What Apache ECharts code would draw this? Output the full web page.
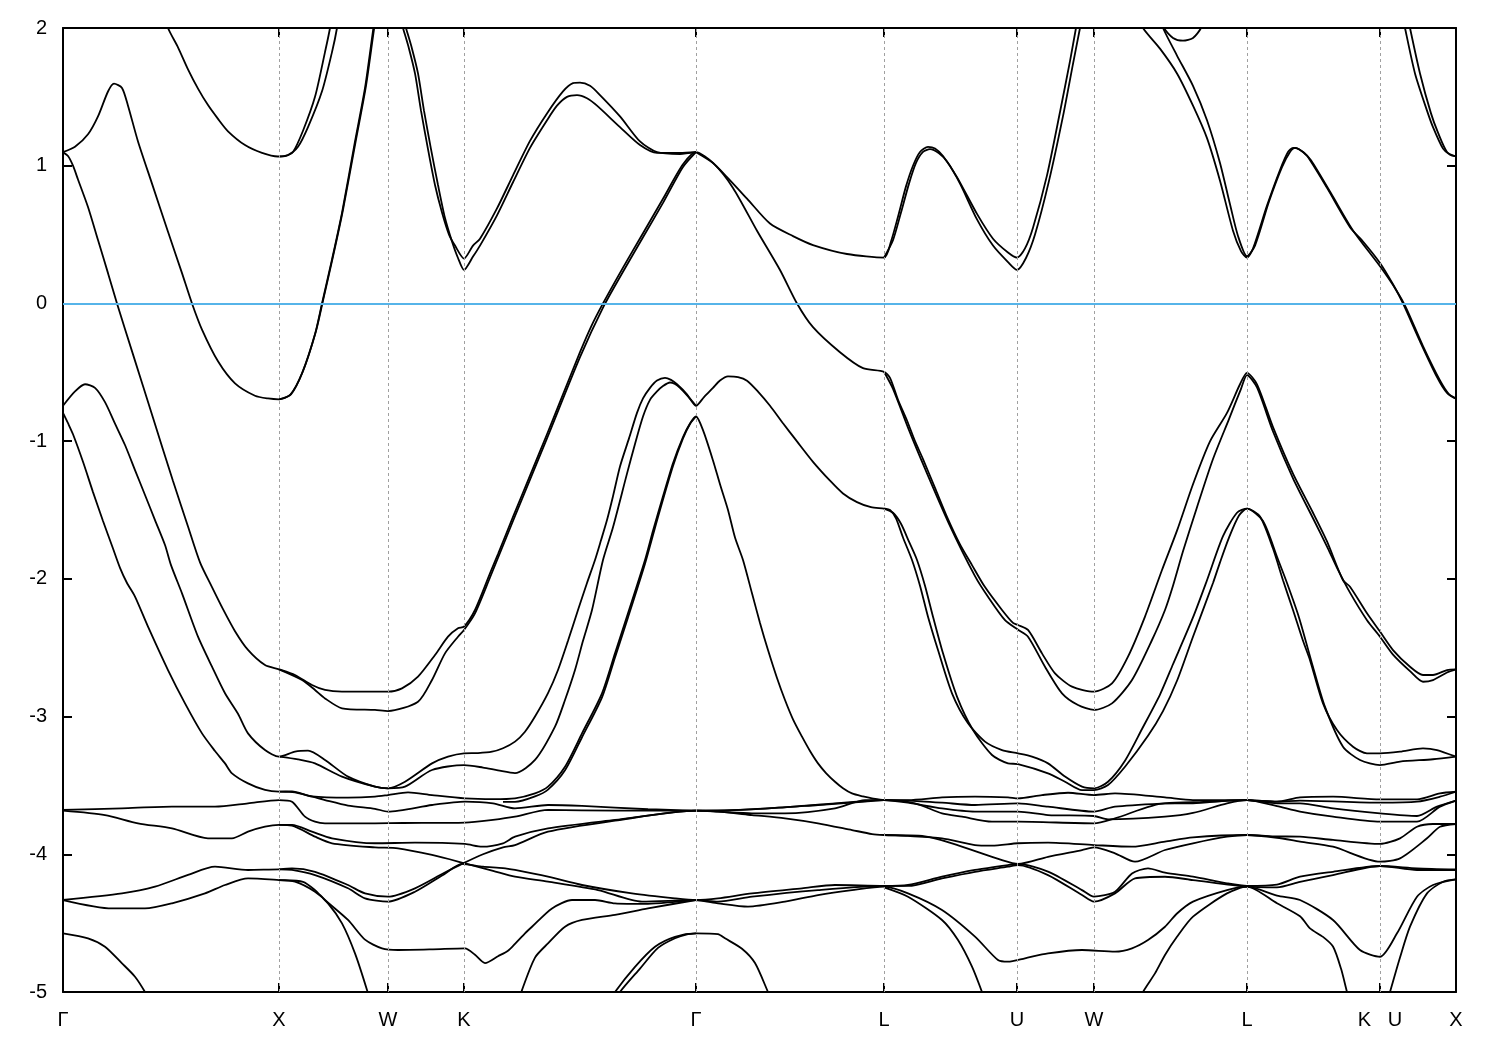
<!DOCTYPE html>
<html>
<head>
<meta charset="utf-8">
<script src="https://cdn.jsdelivr.net/npm/echarts@6/dist/echarts.min.js"></script>
<style>
html,body{margin:0;padding:0;background:#fff;}
#chart{width:1500px;height:1050px;}
</style>
</head>
<body>
<div id="chart"></div>
<script>
// High-symmetry points along the k-path (k-path distance units)
const kTicks = [0, 216, 325, 401, 633, 821, 954, 1031, 1184, 1317, 1393];
const kLabels = ['Γ', 'X', 'W', 'K', 'Γ', 'L', 'U', 'W', 'L', 'K   U', 'X'];
const energyMin = -5, energyMax = 2, energyStep = 1;
const fermiLevel = 0;

// ---- bands: [k, E(eV)] ----
const bandU1a = [[103,2.08],[105,2.0],[115,1.86],[125,1.70],[135,1.56],[145,1.44],[155,1.34],[165,1.25],[182,1.15],[199,1.093],[215,1.067],[225,1.078],[235,1.137],[245,1.28],[259,1.54],[269,1.825],[274,2.0],[275,2.08]];
const bandU1b = [[216,1.067],[222,1.07],[230,1.10],[240,1.254],[252,1.50],[262,1.825],[267,2.0],[268,2.08]];
const bandA = [[0,1.098],[12,1.137],[25,1.228],[35,1.358],[45,1.539],[51,1.596],[59,1.565],[65,1.436],[75,1.176],[89,0.87],[105,0.52],[119,0.22],[129,0],[139,-0.19],[155,-0.42],[172,-0.58],[192,-0.67],[205,-0.69],[216,-0.696],[227,-0.665],[239,-0.509],[252,-0.224],[259,0],[269,0.32],[279,0.658],[292,1.176],[302,1.565],[310,1.98],[312,2.08]];
const bandA2 = [[216,-0.696],[228,-0.66],[240,-0.49],[253,-0.20],[260,0.02],[270,0.34],[280,0.68],[293,1.19],[303,1.58],[311,1.99],[313,2.08]];
const bandKa = [[337,2.08],[340,2.0],[346,1.85],[352,1.67],[358,1.40],[365,1.12],[372,0.86],[379,0.66],[386,0.50],[392,0.42],[401,0.326],[410,0.42],[417,0.47],[434,0.69],[450,0.93],[467,1.18],[484,1.38],[500,1.54],[510,1.60],[517,1.604],[527,1.58],[537,1.513],[557,1.358],[577,1.176],[594,1.098],[617,1.085],[633,1.098]];
const bandKb = [[340,2.08],[343,2.0],[349,1.85],[355,1.67],[361,1.40],[368,1.12],[375,0.86],[382,0.62],[389,0.45],[395,0.33],[401,0.243],[410,0.34],[417,0.42],[434,0.64],[450,0.88],[467,1.13],[484,1.33],[494,1.436],[504,1.50],[514,1.513],[524,1.49],[534,1.436],[557,1.28],[577,1.15],[594,1.093],[617,1.093],[633,1.098]];
const bandB = [[0,1.098],[5,1.07],[10,1.0],[15,0.9],[25,0.7],[35,0.46],[45,0.22],[54,0],[70,-0.37],[90,-0.83],[110,-1.29],[125,-1.62],[137,-1.88],[149,-2.06],[160,-2.22],[172,-2.38],[185,-2.516],[202,-2.626],[216,-2.657],
  [232,-2.698],[249,-2.771],[262,-2.807],[279,-2.819],[312,-2.819],[325,-2.819],[339,-2.795],[355,-2.71],[372,-2.553],[385,-2.42],[395,-2.359],[401,-2.347],
  [412,-2.226],[427,-1.96],[435,-1.82],[450,-1.55],[467,-1.25],[484,-0.95],[500,-0.66],[517,-0.354],[528,-0.17],[540,0],[560,0.26],[580,0.51],[600,0.76],[620,1.01],[633,1.098],
  [650,1.02],[670,0.839],[694,0.528],[717,0.243],[734,0],[750,-0.172],[777,-0.354],[800,-0.47],[821,-0.496],
  [827,-0.54],[835,-0.70],[844,-0.85],[852,-1.0],[860,-1.13],[872,-1.34],[884,-1.55],[897,-1.75],[909,-1.9],[922,-2.06],[939,-2.226],[950,-2.32],[955,-2.335],
  [965,-2.371],[979,-2.541],[992,-2.686],[1009,-2.783],[1031,-2.819],[1049,-2.759],[1065,-2.565],[1082,-2.274],[1099,-1.936],
  [1114,-1.65],[1130,-1.313],[1147,-1.002],[1164,-0.795],[1177,-0.587],[1184,-0.504],
  [1194,-0.587],[1210,-0.898],[1230,-1.236],[1250,-1.52],[1264,-1.728],[1280,-2.01],[1287,-2.057],[1304,-2.25],[1317,-2.383],[1330,-2.517],[1347,-2.638],[1360,-2.698],[1370,-2.698],[1384,-2.662],[1393,-2.657]];
const bandC = [[216,-2.657],[239,-2.734],[252,-2.807],[262,-2.868],[279,-2.94],[312,-2.952],[325,-2.96],[355,-2.892],[369,-2.734],[382,-2.541],[395,-2.42],[401,-2.371],
  [412,-2.25],[427,-1.99],[450,-1.58],[484,-0.98],[517,-0.39],[540,-0.03],[560,0.23],[580,0.48],[600,0.73],[620,0.99],[633,1.098]];
const bandGL = [[633,1.098],[650,1.02],[664,0.917],[684,0.761],[707,0.58],[730,0.489],[750,0.424],[784,0.359],[821,0.333],
  [828,0.45],[835,0.63],[843,0.85],[850,1.0],[857,1.10],[865,1.137],[872,1.125],[880,1.07],[894,0.917],[914,0.65],[930,0.47],[945,0.37],[954,0.333],
  [962,0.40],[970,0.55],[984,0.93],[997,1.39],[1007,1.76],[1013,2.0],[1015,2.08]];
const bandLU2 = [[821,0.333],[830,0.46],[838,0.66],[846,0.87],[853,1.02],[860,1.10],[867,1.12],[876,1.09],[884,1.03],[897,0.87],[914,0.61],[930,0.42],[945,0.30],[954,0.243],[963,0.33],[972,0.50],[986,0.89],[1000,1.36],[1010,1.74],[1017,2.0],[1019,2.08]];
const bandWL1 = [[1077,2.08],[1080,2.0],[1097,1.85],[1114,1.67],[1130,1.436],[1144,1.2],[1157,0.891],[1170,0.528],[1178,0.38],[1184,0.333],[1190,0.398],[1204,0.71],[1217,0.969],[1225,1.10],[1230,1.13],[1236,1.12],[1244,1.072],[1264,0.839],[1287,0.554],[1300,0.45],[1317,0.294],[1330,0.139],[1340,0],[1357,-0.276],[1374,-0.535],[1384,-0.65],[1393,-0.691]];
const bandWL2 = [[1097,2.08],[1100,2.0],[1114,1.80],[1130,1.58],[1144,1.33],[1157,1.02],[1167,0.72],[1175,0.49],[1184,0.343],[1192,0.42],[1206,0.74],[1219,0.99],[1227,1.10],[1232,1.13],[1240,1.10],[1248,1.04],[1268,0.80],[1290,0.53],[1317,0.27],[1333,0.10],[1343,-0.03],[1360,-0.31],[1377,-0.56],[1386,-0.66],[1393,-0.691]];
const bandArc = [[1099,2.08],[1101,2.0],[1110,1.928],[1120,1.908],[1130,1.928],[1138,2.0],[1140,2.08]];
const bandXT1 = [[1340,2.08],[1342,2.0],[1352,1.67],[1364,1.40],[1370,1.28],[1380,1.124],[1387,1.08],[1393,1.067]];
const bandXT2 = [[1345,2.08],[1347,2.0],[1357,1.67],[1368,1.38],[1375,1.24],[1384,1.10],[1393,1.067]];
const bandF = [[821,-0.496],[830,-0.62],[846,-0.92],[862,-1.2],[886,-1.6],[912,-1.98],[925,-2.13],[942,-2.3],[955,-2.37],
  [965,-2.42],[982,-2.638],[999,-2.831],[1015,-2.916],[1031,-2.952],[1049,-2.904],[1069,-2.734],[1089,-2.444],[1102,-2.226],
  [1110,-2.05],[1120,-1.80],[1134,-1.48],[1150,-1.13],[1166,-0.84],[1178,-0.62],[1184,-0.52],
  [1194,-0.61],[1210,-0.93],[1230,-1.27],[1250,-1.56],[1265,-1.78],[1274,-1.92],[1287,-2.10],[1304,-2.30],[1317,-2.42],[1330,-2.55],[1347,-2.67],[1360,-2.747],[1370,-2.735],[1384,-2.68],[1393,-2.657]];
const bandG = [[0,-0.743],[12,-0.639],[22,-0.587],[32,-0.613],[42,-0.717],[52,-0.873],[62,-1.028],[72,-1.21],[82,-1.391],[92,-1.573],[102,-1.754],[108,-1.9],[119,-2.105],[135,-2.42],[149,-2.638],[162,-2.831],[175,-2.98],[185,-3.122],[202,-3.243],[216,-3.291],
  [232,-3.255],[245,-3.248],[262,-3.315],[285,-3.436],[312,-3.509],[325,-3.521],
  [342,-3.473],[369,-3.34],[385,-3.291],[401,-3.267],[415,-3.265],[429,-3.255],[440,-3.23],[452,-3.182],[462,-3.11],[472,-3.0],[485,-2.83],[495,-2.662],[505,-2.45],[515,-2.226],[524,-2.03],[532,-1.863],[538,-1.72],[544,-1.573],[550,-1.40],[557,-1.184],[566,-0.98],[574,-0.795],[580,-0.69],[587,-0.613],[594,-0.56],[602,-0.54],[608,-0.555],[614,-0.587],[624,-0.66],[633,-0.743],
  [641,-0.68],[650,-0.613],[657,-0.56],[665,-0.53],[675,-0.535],[684,-0.561],[695,-0.64],[707,-0.743],[720,-0.87],[734,-1.002],[750,-1.15],[767,-1.287],[780,-1.38],[794,-1.443],[808,-1.48],[821,-1.49],
  [827,-1.50],[833,-1.56],[840,-1.70],[849,-1.863],[857,-2.05],[865,-2.275],[875,-2.517],[889,-2.831],[905,-3.049],[922,-3.182],[939,-3.243],[955,-3.267],
  [969,-3.291],[985,-3.34],[1002,-3.436],[1019,-3.509],[1031,-3.521],[1045,-3.473],[1062,-3.32],[1079,-3.09],[1097,-2.84],[1110,-2.62],[1130,-2.28],[1144,-2.01],[1160,-1.69],[1174,-1.52],[1184,-1.49],
  [1197,-1.547],[1210,-1.78],[1220,-2.01],[1230,-2.226],[1240,-2.45],[1247,-2.59],[1260,-2.904],[1274,-3.098],[1290,-3.219],[1304,-3.267],[1317,-3.267],[1337,-3.255],[1360,-3.231],[1374,-3.243],[1393,-3.291]];
const bandH1 = [[216,-3.291],[235,-3.311],[252,-3.34],[279,-3.436],[312,-3.509],[325,-3.521],[342,-3.509],[369,-3.388],[401,-3.352],[420,-3.37],[435,-3.39],[452,-3.41],[472,-3.315],[492,-3.073],[502,-2.88],[512,-2.662],[520,-2.45],[529,-2.226],[540,-1.863],[550,-1.625],[564,-1.236],[572,-1.02],[580,-0.821],[587,-0.70],[594,-0.639],[600,-0.60],[607,-0.574],[612,-0.585],[617,-0.613],[625,-0.675],[633,-0.743]];
const bandH2 = [[821,-1.49],[830,-1.52],[838,-1.60],[846,-1.73],[854,-1.863],[862,-2.05],[870,-2.275],[880,-2.541],[894,-2.855],[910,-3.098],[929,-3.279],[945,-3.34],[955,-3.345],
  [985,-3.412],[1002,-3.473],[1019,-3.534],[1031,-3.534],[1045,-3.497],[1062,-3.364],[1085,-3.14],[1100,-2.96],[1114,-2.74],[1130,-2.42],[1150,-2.03],[1157,-1.88],[1166,-1.70],[1176,-1.54],[1184,-1.49],
  [1200,-1.58],[1214,-1.84],[1224,-2.03],[1236,-2.28],[1250,-2.64],[1262,-2.93],[1280,-3.219],[1297,-3.315],[1317,-3.352],[1337,-3.327],[1370,-3.31],[1393,-3.291]];
const bandB4 = [[0,-0.795],[5,-0.87],[10,-0.95],[20,-1.15],[30,-1.37],[40,-1.58],[50,-1.78],[57,-1.92],[64,-2.03],[72,-2.129],[85,-2.347],[105,-2.662],[122,-2.904],[139,-3.122],[152,-3.25],[162,-3.34],[169,-3.412],[185,-3.485],[202,-3.533],[216,-3.545],
  [229,-3.543],[249,-3.58],[285,-3.589],[312,-3.582],[325,-3.57],[345,-3.55],[369,-3.57],[402,-3.594],[430,-3.60],[452,-3.594],
  [472,-3.558],[485,-3.509],[502,-3.364],[519,-3.122],[539,-2.831],[552,-2.541],[565,-2.25],[582,-1.863],[590,-1.65],[600,-1.40],[610,-1.16],[620,-0.97],[627,-0.872],[633,-0.821],
  [640,-0.92],[650,-1.14],[657,-1.313],[665,-1.50],[672,-1.70],[680,-1.863],[689,-2.105],[697,-2.32],[705,-2.517],[714,-2.72],[722,-2.88],[730,-3.02],[739,-3.146],[747,-3.25],[755,-3.34],[763,-3.41],[772,-3.473],[780,-3.52],[789,-3.558],[800,-3.58],[809,-3.594],[821,-3.606],
  [845,-3.606],[879,-3.587],[912,-3.582],[945,-3.587],[955,-3.594],[979,-3.57],[1005,-3.553],[1031,-3.57],[1052,-3.558],[1102,-3.587],[1130,-3.606],[1184,-3.606],[1214,-3.618],[1237,-3.587],[1270,-3.582],[1317,-3.601],[1354,-3.601],[1377,-3.558],[1393,-3.546]];
const bandG2b = [[440,-3.62],[452,-3.62],[472,-3.58],[485,-3.53],[502,-3.39],[519,-3.15],[539,-2.86],[552,-2.57],[565,-2.28],[582,-1.89],[595,-1.55],[610,-1.18],[620,-0.98],[627,-0.875],[633,-0.821]];
const bandD1 = [[0,-3.678],[59,-3.666],[109,-3.654],[152,-3.654],[185,-3.63],[216,-3.606],[229,-3.618],[242,-3.727],[252,-3.763],[262,-3.775],[312,-3.775],[340,-3.773],[402,-3.77],[430,-3.75],[452,-3.727],[485,-3.678],[552,-3.683],[633,-3.683],
  [655,-3.683],[722,-3.659],[772,-3.63],[809,-3.61],[821,-3.606],
  [845,-3.61],[879,-3.625],[912,-3.642],[955,-3.63],[985,-3.654],[1031,-3.69],[1052,-3.654],[1102,-3.63],[1147,-3.618],[1184,-3.606],[1214,-3.618],[1237,-3.61],[1317,-3.625],[1354,-3.618],[1377,-3.582],[1393,-3.546]];
const bandD2 = [[216,-3.545],[232,-3.55],[262,-3.606],[285,-3.646],[312,-3.67],[325,-3.69],[369,-3.642],[402,-3.618],[430,-3.63],[452,-3.667],[485,-3.642],[519,-3.649],[585,-3.673],[633,-3.683],
  [689,-3.674],[755,-3.642],[802,-3.617],[821,-3.606],
  [845,-3.625],[879,-3.667],[912,-3.69],[955,-3.69],[985,-3.715],[1031,-3.722],[1045,-3.746],[1102,-3.727],[1130,-3.70],[1164,-3.63],[1184,-3.606],[1214,-3.63],[1237,-3.63],[1270,-3.667],[1317,-3.703],[1354,-3.722],[1374,-3.654],[1393,-3.61]];
const bandD3 = [[0,-3.683],[42,-3.715],[75,-3.775],[109,-3.812],[145,-3.884],[169,-3.884],[185,-3.836],[202,-3.80],[216,-3.787],[229,-3.787],[249,-3.836],[269,-3.884],[312,-3.92],[352,-3.916],[402,-3.925],[419,-3.945],[440,-3.92],[452,-3.872],[485,-3.812],[552,-3.751],[633,-3.683],
  [655,-3.69],[689,-3.703],[722,-3.703],[772,-3.667],[802,-3.606],[821,-3.606],
  [852,-3.63],[879,-3.703],[899,-3.727],[929,-3.763],[955,-3.763],[1031,-3.775],[1052,-3.739],[1102,-3.63],[1130,-3.63],[1164,-3.61],[1184,-3.606],[1214,-3.65],[1237,-3.69],[1270,-3.727],[1317,-3.763],[1354,-3.763],[1377,-3.654],[1393,-3.61]];
const bandD4 = [[216,-3.787],[229,-3.792],[252,-3.872],[269,-3.92],[312,-3.95],[335,-3.957],[369,-4.005],[402,-4.066],[430,-4.12],[452,-4.163],[485,-4.199],[535,-4.26],[579,-4.344],[633,-4.332],
  [655,-4.344],[689,-4.308],[755,-4.26],[821,-4.23],
  [845,-4.23],[879,-4.175],[912,-4.127],[945,-4.09],[955,-4.078],[985,-4.151],[1019,-4.296],[1031,-4.344],[1052,-4.284],[1072,-4.175],[1102,-4.163],[1130,-4.187],[1184,-4.235],[1214,-4.24],[1237,-4.2],[1270,-4.151],[1317,-4.085],[1354,-4.114],[1393,-4.114]];
const bandV1 = [[216,-4.11],[229,-4.102],[252,-4.127],[285,-4.223],[302,-4.284],[325,-4.308],[352,-4.247],[380,-4.14],[399,-4.07],[420,-4.0],[440,-3.95],[452,-3.933],[485,-3.836],[552,-3.756],[633,-3.683],
  [655,-3.69],[689,-3.715],[722,-3.739],[755,-3.775],[789,-3.824],[809,-3.853],[821,-3.86],
  [845,-3.867],[879,-3.884],[912,-3.933],[929,-3.937],[955,-3.92],[985,-3.916],[1031,-3.933],[1069,-3.945],[1102,-3.908],[1130,-3.877],[1184,-3.86],[1214,-3.87],[1237,-3.872],[1270,-3.896],[1317,-3.925],[1337,-3.884],[1354,-3.8],[1370,-3.78],[1393,-3.78]];
const bandV2 = [[0,-4.332],[59,-4.284],[92,-4.235],[125,-4.15],[152,-4.09],[185,-4.114],[216,-4.11],
  [229,-4.114],[252,-4.151],[285,-4.247],[302,-4.32],[325,-4.344],[352,-4.272],[380,-4.15],[399,-4.07],[420,-4.09],[440,-4.10],[452,-4.114],[485,-4.163],[519,-4.223],[569,-4.284],[612,-4.32],[633,-4.332],
  [655,-4.32],[689,-4.284],[739,-4.247],[772,-4.223],[821,-4.23],
  [845,-4.223],[879,-4.163],[912,-4.114],[945,-4.078],[955,-4.07],[985,-4.126],[1019,-4.26],[1031,-4.308],[1052,-4.272],[1069,-4.139],[1085,-4.102],[1102,-4.133],[1130,-4.163],[1164,-4.211],[1184,-4.23],[1214,-4.22],[1237,-4.163],[1270,-4.127],[1317,-4.085],[1354,-4.102],[1393,-4.11]];
const bandT6 = [[821,-3.86],[862,-3.87],[889,-3.92],[939,-4.042],[955,-4.07],[985,-4.018],[1019,-3.969],[1031,-3.95],[1052,-3.993],[1072,-4.054],[1102,-3.969],[1130,-3.92],[1164,-3.872],[1184,-3.86],[1214,-3.88],[1237,-3.908],[1270,-3.945],[1317,-4.054],[1337,-4.03],[1364,-3.884],[1377,-3.8],[1393,-3.78]];
const bandLow = [[0,-4.332],[49,-4.393],[82,-4.393],[109,-4.356],[142,-4.284],[162,-4.223],[185,-4.175],[216,-4.187],
  [240,-4.20],[252,-4.26],[262,-4.332],[285,-4.477],[302,-4.62],[319,-4.683],[335,-4.695],[370,-4.69],[402,-4.683],[412,-4.73],[422,-4.79],[435,-4.74],[445,-4.70],[452,-4.65],[462,-4.574],[469,-4.526],[489,-4.393],[509,-4.332],[532,-4.332],[552,-4.356],[585,-4.36],[612,-4.345],[633,-4.332],
  [655,-4.356],[685,-4.38],[722,-4.344],[755,-4.296],[789,-4.26],[821,-4.235],
  [845,-4.284],[879,-4.405],[912,-4.598],[935,-4.768],[945,-4.78],[962,-4.755],[985,-4.72],[1019,-4.695],[1052,-4.707],[1069,-4.683],[1085,-4.623],[1102,-4.526],[1114,-4.43],[1130,-4.344],[1164,-4.26],[1184,-4.235],
  [1214,-4.30],[1237,-4.332],[1270,-4.477],[1297,-4.695],[1317,-4.744],[1334,-4.574],[1354,-4.308],[1370,-4.223],[1393,-4.182]];
const bandSteepXW = [[216,-4.187],[232,-4.199],[252,-4.272],[265,-4.356],[279,-4.502],[292,-4.72],[304,-4.986],[306,-5.05]];
const bandRiseKG = [[457,-5.05],[459,-4.986],[472,-4.75],[485,-4.647],[502,-4.526],[519,-4.477],[552,-4.44],[585,-4.393],[633,-4.332]];
const bandSteepLU = [[821,-4.24],[845,-4.308],[879,-4.477],[895,-4.623],[909,-4.816],[919,-5.0],[921,-5.05]];
const bandRiseWL = [[1078,-5.05],[1080,-5.0],[1092,-4.865],[1102,-4.731],[1114,-4.599],[1130,-4.453],[1164,-4.284],[1184,-4.235],
  [1214,-4.356],[1237,-4.45],[1247,-4.538],[1260,-4.60],[1270,-4.67],[1278,-4.83],[1284,-5.0],[1286,-5.05]];
const bandRiseKX = [[1325,-5.05],[1327,-5.0],[1337,-4.75],[1347,-4.526],[1364,-4.284],[1380,-4.199],[1393,-4.182]];
const bandDomeGX = [[0,-4.574],[25,-4.61],[42,-4.671],[59,-4.792],[72,-4.889],[82,-5.0],[85,-5.05]];
const bandDome1 = [[549,-5.05],[552,-5.0],[572,-4.817],[592,-4.671],[612,-4.599],[633,-4.574],[655,-4.579],[662,-4.61],[679,-4.686],[692,-4.79],[705,-5.0],[708,-5.05]];
const bandDome2 = [[555,-5.05],[557,-5.0],[577,-4.83],[595,-4.68],[612,-4.61],[625,-4.58],[633,-4.574]];

const bands = [bandU1a, bandU1b, bandA, bandA2, bandKa, bandKb, bandB, bandC, bandGL, bandLU2,
  bandWL1, bandWL2, bandArc, bandXT1, bandXT2, bandF, bandG, bandH1, bandH2, bandB4, bandG2b,
  bandD1, bandD2, bandD3, bandD4, bandV1, bandV2, bandT6, bandLow, bandSteepXW, bandRiseKG,
  bandSteepLU, bandRiseWL, bandRiseKX, bandDomeGX, bandDome1, bandDome2];

const chart = echarts.init(document.getElementById('chart'), null, {renderer: 'canvas'});
const FONT = 'Liberation Sans';
const interiorTicks = kTicks.slice(1, -1);

const series = bands.map(b => ({
  type: 'line', data: b, showSymbol: false, symbol: 'none', smooth: 0.25,
  clip: true, silent: true, z: 3,
  lineStyle: {color: '#000', width: 1.8}
}));
series.unshift({
  type: 'line', data: [], silent: true, z: 2,
  markLine: {
    silent: true, symbol: 'none', animation: false,
    label: {show: false},
    data: interiorTicks.map(v => ({xAxis: v, lineStyle: {color: '#a0a0a0', type: [3, 3], width: 1}}))
      .concat([{yAxis: fermiLevel, lineStyle: {color: '#56b4e9', type: 'solid', width: 2}}])
  }
});

const xLabelFmt = v => { const i = kTicks.indexOf(v); return i >= 0 ? kLabels[i] : ''; };

chart.setOption({
  animation: false,
  backgroundColor: '#fff',
  grid: {left: 63, right: 44, top: 28, bottom: 58, containLabel: false},
  xAxis: [{
    type: 'value', min: kTicks[0], max: kTicks[kTicks.length - 1], position: 'bottom',
    axisLine: {onZero: false, lineStyle: {color: '#000', width: 2}},
    axisTick: {show: true, inside: true, length: 9, customValues: interiorTicks, lineStyle: {color: '#000', width: 2}},
    axisLabel: {show: true, customValues: kTicks, formatter: xLabelFmt, color: '#000', fontFamily: FONT, fontSize: 20, margin: 18},
    splitLine: {show: false}
  }, {
    type: 'value', min: kTicks[0], max: kTicks[kTicks.length - 1], position: 'top',
    axisLine: {onZero: false, lineStyle: {color: '#000', width: 2}},
    axisTick: {show: true, inside: true, length: 9, customValues: interiorTicks, lineStyle: {color: '#000', width: 2}},
    axisLabel: {show: false},
    splitLine: {show: false}
  }],
  yAxis: [{
    type: 'value', min: energyMin, max: energyMax, interval: energyStep, position: 'left',
    axisLine: {show: true, onZero: false, lineStyle: {color: '#000', width: 2}},
    axisTick: {show: true, inside: true, length: 9, lineStyle: {color: '#000', width: 2}},
    axisLabel: {color: '#000', fontFamily: FONT, fontSize: 20, margin: 16},
    splitLine: {show: false}
  }, {
    type: 'value', min: energyMin, max: energyMax, interval: energyStep, position: 'right',
    axisLine: {show: true, onZero: false, lineStyle: {color: '#000', width: 2}},
    axisTick: {show: true, inside: true, length: 9, lineStyle: {color: '#000', width: 2}},
    axisLabel: {show: false},
    splitLine: {show: false}
  }],
  series: series
});
</script>
</body>
</html>
